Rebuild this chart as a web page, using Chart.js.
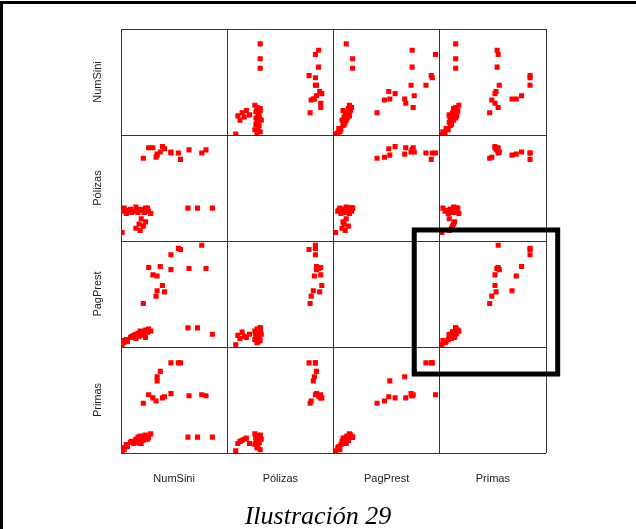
<!DOCTYPE html>
<html>
<head>
<meta charset="utf-8">
<script src="https://cdn.jsdelivr.net/npm/chart.js@4.4.1/dist/chart.umd.min.js"></script>
<style>
  html, body { margin: 0; padding: 0; background: #fff; }
  #page { position: relative; width: 636px; height: 529px; overflow: hidden; }
  #chart-box { position: absolute; left: 0; top: 0; width: 636px; height: 500px; }
  .frame-top { position: absolute; left: 0; top: 1px; width: 636px; height: 3px; background: #000; }
  .frame-left { position: absolute; left: 0; top: 1px; width: 3px; height: 528px; background: #000; }
  #caption {
    position: absolute; left: 0; top: 501px; width: 636px;
    text-align: center; line-height: 26px;
    font: italic 26px "Liberation Serif", "Times New Roman", serif;
  }
</style>
</head>
<body>
<div id="page">
  <div id="chart-box"><canvas id="matrix"></canvas></div>
  <div class="frame-top"></div>
  <div class="frame-left"></div>
  <div id="caption">Ilustración 29</div>
</div>
<script>
// variable names, top row / left column first
const variables = ["NumSini", "Pólizas", "PagPrest", "Primas"];

// values, relative scale 0-100 within each panel
const numSini  = [1, 2, 3, 5, 9, 12, 14, 16, 18, 20, 23, 26, 28, 14, 17, 19, 21, 23,
                  6, 10, 15, 22, 18, 25,
                  21, 26, 30, 33, 34, 34, 37, 39, 41, 47, 47, 54, 56, 64, 76, 80,
                  63, 72, 86];
const polizas  = [8, 28, 31, 26, 30, 28, 32, 27, 30, 29, 31, 28, 26, 12, 16, 21, 14, 18,
                  29, 27, 30, 27, 10, 31,
                  78, 88, 88, 79, 81, 82, 84, 89, 87, 84, 83, 83, 77, 86, 83, 86,
                  31, 31, 31];
const pagPrest = [2, 4, 6, 7, 9, 11, 12, 13, 15, 14, 16, 17, 15, 8, 10, 12, 14, 9,
                  5, 10, 11, 13, 11, 14,
                  41, 75, 68, 48, 53, 67, 76, 58, 52, 73, 87, 93, 92, 74, 96, 74,
                  18, 18, 12];
const primas   = [2, 5, 3, 8, 10, 9, 13, 15, 16, 12, 17, 15, 18, 11, 13, 9, 12, 14,
                  6, 11, 10, 16, 9, 13,
                  47, 55, 52, 49, 68, 72, 77, 52, 53, 56, 85, 85, 85, 54, 55, 54,
                  15, 15, 15];
const columns = [numSini, polizas, pagPrest, primas];

// thick frame drawn round the Primas / PagPrest panel, in that panel's units
const highlight = { xAxis: "x3", yAxis: "y2", x0: -24, x1: 111, y0: -25.5, y1: 110.4 };

const gridColor = "#333";
const labelFont = { family: "'Liberation Sans', Arial, sans-serif", size: 11 };

const datasets = [];
for (let row = 0; row < 4; row++) {
    for (let col = 0; col < 4; col++) {
        if (row === col) continue;
        datasets.push({
            label: variables[row] + " / " + variables[col],
            data: columns[col].map((x, i) => ({ x: x, y: columns[row][i] })),
            xAxisID: "x" + col,
            yAxisID: "y" + row,
            backgroundColor: "#ff0000",
            borderWidth: 0,
            pointStyle: "rect",
            pointRadius: 3.6,
        });
    }
}

const scales = {};
variables.forEach((name, k) => {
    scales["x" + k] = {
        type: "linear",
        position: "bottom",
        stack: "cols",
        stackWeight: 1,
        min: 0,
        max: 100,
        ticks: { display: false, stepSize: 100 },
        grid: { drawTicks: false, color: gridColor, lineWidth: 1 },
        border: { display: false },
        title: { display: true, text: name, color: "#222", font: labelFont,
                 padding: { top: 19.4, bottom: 4.4 } },
    };
    scales["y" + k] = {
        type: "linear",
        position: "left",
        stack: "rows",
        stackWeight: 1,
        weight: 4 - k,
        min: 0,
        max: 100,
        ticks: { display: false, stepSize: 100 },
        grid: { drawTicks: false, color: gridColor, lineWidth: 1 },
        border: { display: false },
        title: { display: true, text: name, color: "#222", font: labelFont,
                 padding: { top: 11.4, bottom: 16.4 } },
    };
});

const highlightPlugin = {
    id: "highlight",
    afterDraw(chart) {
        const xs = chart.scales[highlight.xAxis];
        const ys = chart.scales[highlight.yAxis];
        const left = xs.getPixelForValue(highlight.x0);
        const right = xs.getPixelForValue(highlight.x1);
        const top = ys.getPixelForValue(highlight.y1);
        const bottom = ys.getPixelForValue(highlight.y0);
        const ctx = chart.ctx;
        ctx.save();
        ctx.strokeStyle = "#000";
        ctx.lineWidth = 5;
        ctx.strokeRect(left, top, right - left, bottom - top);
        ctx.restore();
    }
};

new Chart(document.getElementById("matrix"), {
    type: "scatter",
    data: { datasets: datasets },
    options: {
        responsive: true,
        maintainAspectRatio: false,
        animation: false,
        devicePixelRatio: 1,
        layout: { padding: { left: 80, right: 90, top: 29, bottom: 10 } },
        plugins: {
            legend: { display: false },
            tooltip: { enabled: false },
        },
        scales: scales,
    },
    plugins: [highlightPlugin],
});
</script>
</body>
</html>
